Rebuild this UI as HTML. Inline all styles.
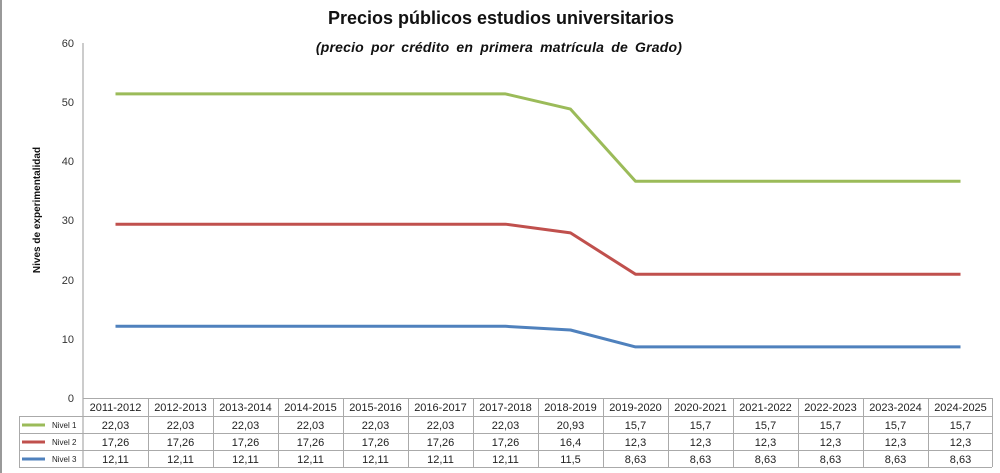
<!DOCTYPE html>
<html><head><meta charset="utf-8"><style>
body{margin:0;background:#fff;}
svg{display:block;font-family:"Liberation Sans",sans-serif;}
</style></head><body>
<svg width="1000" height="473" viewBox="0 0 1000 473" xmlns="http://www.w3.org/2000/svg">
<rect width="1000" height="473" fill="#fff"/>
<line x1="1" y1="0" x2="1" y2="473" stroke="#999" stroke-width="2"/>
<text x="501" y="24" text-anchor="middle" font-size="18" font-weight="bold" fill="#111">Precios públicos estudios universitarios</text>
<text x="499" y="52" text-anchor="middle" font-size="14" font-weight="bold" font-style="italic" fill="#111" word-spacing="3" letter-spacing="0.2">(precio por crédito en primera matrícula de Grado)</text>
<text transform="translate(40,210) rotate(-90)" text-anchor="middle" font-size="10" font-weight="bold" fill="#111">Nives de experimentalidad</text>
<g font-size="11" fill="#333" text-anchor="end">
<text x="74" y="47">60</text><text x="74" y="106">50</text><text x="74" y="165">40</text>
<text x="74" y="224">30</text><text x="74" y="284">20</text><text x="74" y="343">10</text><text x="74" y="402">0</text>
</g>
<line x1="83" y1="43" x2="83" y2="467" stroke="#999"/>
<g fill="none" stroke-width="3" stroke-linejoin="round">
<polyline stroke="#9bbb59" points="115.5,93.9 505.5,93.9 570.5,109.1 635.5,181.3 960.5,181.3"/>
<polyline stroke="#c0504d" points="115.5,224.2 505.5,224.2 570.5,232.9 635.5,274.2 960.5,274.2"/>
<polyline stroke="#4f81bd" points="115.5,326.3 505.5,326.3 570.5,330 635.5,346.9 960.5,346.9"/>
</g>
<g stroke="#aaa" stroke-width="1">
<line x1="83" y1="398.5" x2="992" y2="398.5"/>
<line x1="19" y1="416.5" x2="992" y2="416.5"/>
<line x1="19" y1="433.5" x2="992" y2="433.5"/>
<line x1="19" y1="450.5" x2="992" y2="450.5"/>
<line x1="19" y1="467.5" x2="992" y2="467.5"/>
<line x1="19.5" y1="416" x2="19.5" y2="467"/>
<line x1="148.5" y1="398" x2="148.5" y2="467"/><line x1="213.5" y1="398" x2="213.5" y2="467"/>
<line x1="278.5" y1="398" x2="278.5" y2="467"/><line x1="343.5" y1="398" x2="343.5" y2="467"/>
<line x1="408.5" y1="398" x2="408.5" y2="467"/><line x1="473.5" y1="398" x2="473.5" y2="467"/>
<line x1="538.5" y1="398" x2="538.5" y2="467"/><line x1="603.5" y1="398" x2="603.5" y2="467"/>
<line x1="668.5" y1="398" x2="668.5" y2="467"/><line x1="733.5" y1="398" x2="733.5" y2="467"/>
<line x1="798.5" y1="398" x2="798.5" y2="467"/><line x1="863.5" y1="398" x2="863.5" y2="467"/>
<line x1="928.5" y1="398" x2="928.5" y2="467"/><line x1="992.5" y1="398" x2="992.5" y2="467"/>
</g>
<line x1="22" y1="425" x2="45" y2="425" stroke="#9bbb59" stroke-width="3"/>
<line x1="22" y1="442" x2="45" y2="442" stroke="#c0504d" stroke-width="3"/>
<line x1="22" y1="459" x2="45" y2="459" stroke="#4f81bd" stroke-width="3"/>
<g font-size="8" fill="#222"><text x="52" y="428">Nivel 1</text><text x="52" y="445">Nivel 2</text><text x="52" y="462">Nivel 3</text></g>
<g font-size="11" fill="#222" text-anchor="middle">
<text x="115.5" y="411">2011-2012</text><text x="180.5" y="411">2012-2013</text><text x="245.5" y="411">2013-2014</text><text x="310.5" y="411">2014-2015</text><text x="375.5" y="411">2015-2016</text><text x="440.5" y="411">2016-2017</text><text x="505.5" y="411">2017-2018</text><text x="570.5" y="411">2018-2019</text><text x="635.5" y="411">2019-2020</text><text x="700.5" y="411">2020-2021</text><text x="765.5" y="411">2021-2022</text><text x="830.5" y="411">2022-2023</text><text x="895.5" y="411">2023-2024</text><text x="960.5" y="411">2024-2025</text>
<text x="115.5" y="429">22,03</text><text x="180.5" y="429">22,03</text><text x="245.5" y="429">22,03</text><text x="310.5" y="429">22,03</text><text x="375.5" y="429">22,03</text><text x="440.5" y="429">22,03</text><text x="505.5" y="429">22,03</text><text x="570.5" y="429">20,93</text><text x="635.5" y="429">15,7</text><text x="700.5" y="429">15,7</text><text x="765.5" y="429">15,7</text><text x="830.5" y="429">15,7</text><text x="895.5" y="429">15,7</text><text x="960.5" y="429">15,7</text>
<text x="115.5" y="446">17,26</text><text x="180.5" y="446">17,26</text><text x="245.5" y="446">17,26</text><text x="310.5" y="446">17,26</text><text x="375.5" y="446">17,26</text><text x="440.5" y="446">17,26</text><text x="505.5" y="446">17,26</text><text x="570.5" y="446">16,4</text><text x="635.5" y="446">12,3</text><text x="700.5" y="446">12,3</text><text x="765.5" y="446">12,3</text><text x="830.5" y="446">12,3</text><text x="895.5" y="446">12,3</text><text x="960.5" y="446">12,3</text>
<text x="115.5" y="463">12,11</text><text x="180.5" y="463">12,11</text><text x="245.5" y="463">12,11</text><text x="310.5" y="463">12,11</text><text x="375.5" y="463">12,11</text><text x="440.5" y="463">12,11</text><text x="505.5" y="463">12,11</text><text x="570.5" y="463">11,5</text><text x="635.5" y="463">8,63</text><text x="700.5" y="463">8,63</text><text x="765.5" y="463">8,63</text><text x="830.5" y="463">8,63</text><text x="895.5" y="463">8,63</text><text x="960.5" y="463">8,63</text>
</g>
</svg>
</body></html>
